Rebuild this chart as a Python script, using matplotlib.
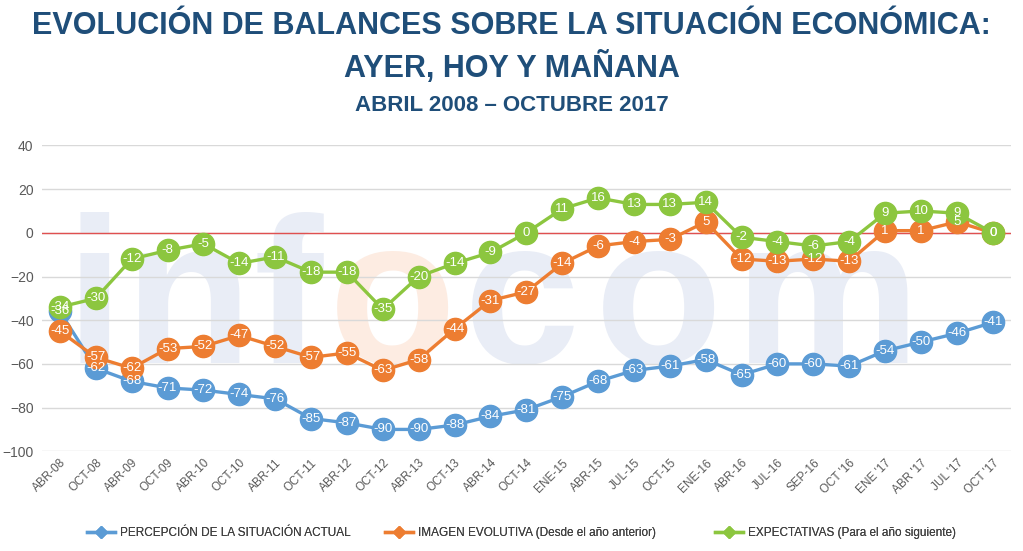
import numpy as np
import matplotlib
matplotlib.use("Agg")
import matplotlib.pyplot as plt
from matplotlib.lines import Line2D

plt.rcParams['font.family'] = ['Liberation Sans', 'DejaVu Sans']

periodos = ["ABR-08", "OCT-08", "ABR-09", "OCT-09", "ABR-10", "OCT-10", "ABR-11",
            "OCT-11", "ABR-12", "OCT-12", "ABR-13", "OCT-13", "ABR-14", "OCT-14",
            "ENE-15", "ABR-15", "JUL-15", "OCT-15", "ENE-16", "ABR-16", "JUL-16",
            "SEP-16", "OCT '16", "ENE '17", "ABR '17", "JUL '17", "OCT '17"]

percepcion = [-36, -62, -68, -71, -72, -74, -76, -85, -87, -90, -90, -88, -84, -81,
              -75, -68, -63, -61, -58, -65, -60, -60, -61, -54, -50, -46, -41]
imagen = [-45, -57, -62, -53, -52, -47, -52, -57, -55, -63, -58, -44, -31, -27,
          -14, -6, -4, -3, 5, -12, -13, -12, -13, 1, 1, 5, 0]
expectativas = [-34, -30, -12, -8, -5, -14, -11, -18, -18, -35, -20, -14, -9, 0,
                11, 16, 13, 13, 14, -2, -4, -6, -4, 9, 10, 9, 0]

series = [
    ("PERCEPCIÓN DE LA SITUACIÓN ACTUAL", percepcion, "#5B9BD5"),
    ("IMAGEN EVOLUTIVA (Desde el año anterior)", imagen, "#ED7D31"),
    ("EXPECTATIVAS (Para el año siguiente)", expectativas, "#8CC63F"),
]

fig = plt.figure(figsize=(10.23, 5.51), dpi=100)
ax = fig.add_axes([0.041, 0.181, 0.947, 0.555])

x = np.arange(len(periodos))

# marca de agua "infocom" (letra a letra)
marca = [("i", 0.0547, "#E9EDF6"), ("n", 0.151, "#E9EDF6"), ("f", 0.254, "#E9EDF6"),
         ("o", 0.362, "#FDECE2"), ("c", 0.495, "#E9EDF6"), ("o", 0.636, "#E9EDF6"),
         ("m", 0.811, "#E9EDF6")]
for letra, xf, col in marca:
    ax.text(xf, 0.29, letra, transform=ax.transAxes, fontsize=150, fontweight="bold",
            color=col, ha="center", va="baseline", zorder=0)

handles = []
for i, (nombre, vals, col) in enumerate(series):
    ax.plot(x, vals, color=col, lw=2.4, marker="o", ms=16, mec=col, mfc=col,
            zorder=3 + i)
    handles.append(Line2D([0], [0], color=col, lw=2.4, marker="D", ms=6, label=nombre))

for nombre, vals, col in series:
    for xi, v in zip(x, vals):
        ax.text(xi, v, str(v), color="white", fontsize=9.5, ha="center", va="center",
                zorder=10)

ax.axhline(0, color="#E05050", lw=1, zorder=2)
ax.set_ylim(-100, 40)
ax.set_yticks(np.arange(-100, 41, 20))
ax.set_xlim(-0.5, len(periodos) - 0.5)
ax.set_xticks(x)
ax.set_xticklabels(periodos, rotation=45, ha="right", rotation_mode="anchor",
                   fontsize=8.5, color="#595959")
ax.tick_params(axis="y", labelsize=10, labelcolor="#595959", length=0, pad=6)
ax.tick_params(axis="x", length=0, pad=4)
ax.grid(axis="y", color="#D9D9D9", lw=1, zorder=1)
ax.set_axisbelow(True)
for s in ax.spines.values():
    s.set_visible(False)

titulo = "#1F4E79"
fig.text(0.5, 0.953, "EVOLUCIÓN DE BALANCES SOBRE LA SITUACIÓN ECONÓMICA:", ha="center",
         va="center", fontsize=22, fontweight="bold", color=titulo)
fig.text(0.5, 0.877, "AYER, HOY Y MAÑANA", ha="center", va="center", fontsize=22,
         fontweight="bold", color=titulo)
fig.text(0.5, 0.808, "ABRIL 2008 – OCTUBRE 2017", ha="center", va="center", fontsize=16,
         fontweight="bold", color=titulo)

# leyenda: una entrada por serie, colocadas como en el original
pos_leyenda = [0.085, 0.376, 0.699]
for h, px in zip(handles, pos_leyenda):
    lg = fig.legend(handles=[h], loc="center left", bbox_to_anchor=(px, 0.032),
                    frameon=False, fontsize=8.5, handlelength=2.4, handletextpad=0.4,
                    borderpad=0, borderaxespad=0, labelcolor="#404040")
    fig.add_artist(lg)

fig.savefig("out.png", dpi=100)
